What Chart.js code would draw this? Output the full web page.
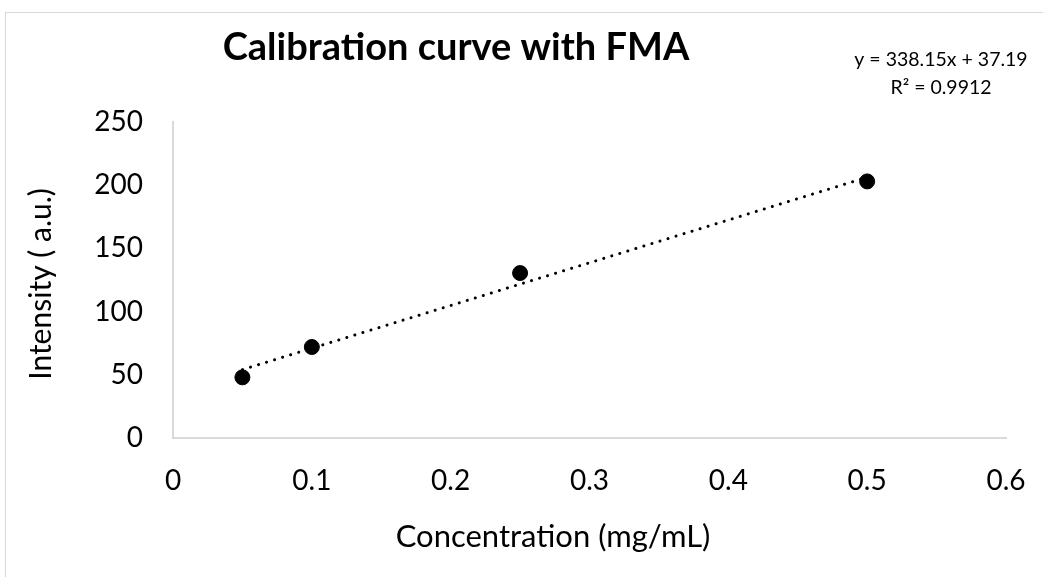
<!DOCTYPE html>
<html>
<head>
<meta charset="utf-8">
<script src="https://cdn.jsdelivr.net/npm/chart.js@4.4.1/dist/chart.umd.min.js"></script>
<style>
  html, body { margin: 0; padding: 0; background: #fff; }
  #wrap { width: 1043px; height: 577px; position: relative; }
</style>
</head>
<body>
<div id="wrap"><canvas id="calib"></canvas></div>
<script>
// Calibration data
const concentration = [0.05, 0.1, 0.25, 0.5];
const intensity = [48, 72, 130.5, 203];

// Trendline as printed on the chart
const slope = 338.15;
const intercept = 37.19;
const rSquared = '0.9912';

const xTicks = [0, 0.1, 0.2, 0.3, 0.4, 0.5, 0.6];
const yTicks = [0, 50, 100, 150, 200, 250];

const titleText = 'Calibration curve with FMA';
const xTitle = 'Concentration (mg/mL)';
const yTitle = 'Intensity ( a.u.)';

const FONT = 'Lato, Carlito, Calibri, "Open Sans", sans-serif';

const points = concentration.map((c, i) => ({ x: c, y: intensity[i] }));
const xFirst = concentration[0];
const xLast = concentration[concentration.length - 1];
const trend = [
  { x: xFirst, y: slope * xFirst + intercept },
  { x: xLast, y: slope * xLast + intercept }
];

// Frame, titles and equation label (placed like the Excel original)
const decorations = {
  id: 'decorations',
  beforeDraw(chart) {
    const ctx = chart.ctx;
    ctx.save();
    ctx.strokeStyle = '#d9d9d9';
    ctx.lineWidth = 1;
    ctx.strokeRect(5.5, 12.5, 2000, 2000);
    ctx.restore();
  },
  afterDraw(chart) {
    const ctx = chart.ctx;
    ctx.save();
    ctx.fillStyle = '#000';
    ctx.textAlign = 'center';
    ctx.textBaseline = 'alphabetic';

    ctx.font = 'bold 38px ' + FONT;
    ctx.fillText(titleText, 456, 60);

    ctx.font = '19.5px ' + FONT;
    ctx.fillText('y = ' + slope + 'x + ' + intercept, 941, 66);
    ctx.fillText('R² = ' + rSquared, 941, 94);

    ctx.font = '31px ' + FONT;
    ctx.fillText(xTitle, 553, 547);

    ctx.save();
    ctx.translate(51, 284);
    ctx.rotate(-Math.PI / 2);
    ctx.font = '30px ' + FONT;
    ctx.fillText(yTitle, 0, 0);
    ctx.restore();

    ctx.restore();
  }
};

new Chart(document.getElementById('calib'), {
  type: 'scatter',
  data: {
    datasets: [
      {
        label: 'Linear trend',
        type: 'line',
        data: trend,
        borderColor: '#000',
        borderWidth: 3,
        borderDash: [0.1, 8.3],
        borderCapStyle: 'round',
        pointRadius: 0,
        fill: false,
        order: 2
      },
      {
        label: 'Intensity',
        data: points,
        backgroundColor: '#000',
        borderColor: '#000',
        pointRadius: 7.5,
        pointHoverRadius: 7.5,
        order: 1
      }
    ]
  },
  options: {
    responsive: true,
    maintainAspectRatio: false,
    animation: false,
    devicePixelRatio: 1,
    layout: { padding: { left: 0, right: 37, top: 122, bottom: 0 } },
    plugins: {
      legend: { display: false },
      title: { display: false },
      tooltip: { enabled: false }
    },
    scales: {
      x: {
        type: 'linear',
        min: 0,
        max: 0.6,
        afterBuildTicks(scale) { scale.ticks = xTicks.map(v => ({ value: v })); },
        afterFit(scale) {
          scale.height = 139;
          scale.paddingLeft = 0;
          scale.paddingRight = 0;
        },
        grid: { display: false, drawTicks: false },
        border: { color: '#d9d9d9', width: 2 },
        ticks: {
          color: '#000',
          padding: 26,
          font: { family: FONT, size: 28 },
          callback: v => String(v)
        }
      },
      y: {
        min: 0,
        max: 250,
        afterBuildTicks(scale) { scale.ticks = yTicks.map(v => ({ value: v })); },
        afterFit(scale) { scale.width = 173; },
        grid: { display: false, drawTicks: false },
        border: { color: '#d9d9d9', width: 2 },
        ticks: {
          color: '#000',
          padding: 30,
          font: { family: FONT, size: 28 }
        }
      }
    }
  },
  plugins: [decorations]
});
</script>
</body>
</html>
